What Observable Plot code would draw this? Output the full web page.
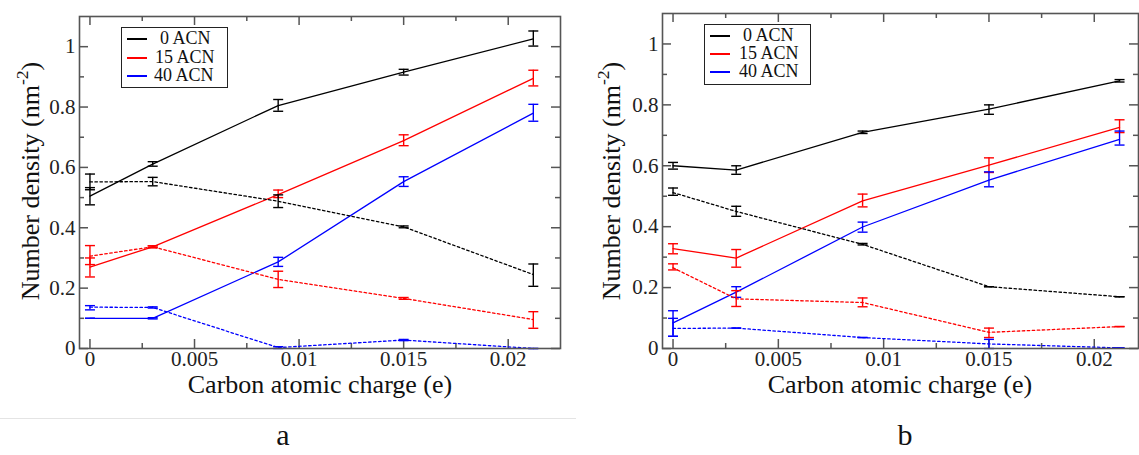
<!DOCTYPE html>
<html>
<head>
<meta charset="utf-8">
<script src="https://cdn.jsdelivr.net/npm/d3@7"></script>
<script src="https://cdn.jsdelivr.net/npm/@observablehq/plot@0.6"></script>
<style>
  html, body { margin: 0; padding: 0; background: #fff; }
  #root { position: relative; width: 1139px; height: 455px; overflow: hidden; font-family: "Liberation Serif", "Times New Roman", Times, "DejaVu Serif", serif; color: #111; }
  .panel { position: absolute; top: 0; }
  .ytitle { position: absolute; font-size: 26px; white-space: nowrap; transform: translate(-50%, -50%) rotate(-90deg); line-height: 26px; }
  .ytitle .sup { font-size: 0.68em; position: relative; top: -0.62em; }
  .xtitle { position: absolute; font-size: 26px; white-space: nowrap; transform: translateX(-50%); line-height: 17px; }
  .legend { position: absolute; border: 1.5px solid #222; box-sizing: border-box; background: #fff; }
  .legend .row { position: absolute; left: 0; height: 18px; width: 100%; }
  .legend .sw { position: absolute; left: 5px; width: 20px; height: 1.5px; top: 9px; }
  .legend .lab { position: absolute; font-size: 18px; line-height: 18px; top: 0; white-space: nowrap; }
  .sublabel { position: absolute; font-size: 30px; transform: translateX(-50%); line-height: 30px; }
  .sep { position: absolute; left: 0; top: 418px; width: 576px; height: 0; border-top: 1px solid #e4e4e4; }
</style>
</head>
<body>
<div id="root"></div>
<script>
// ---------------- data ----------------
const charge = [0, 0.003, 0.009, 0.015, 0.0212];
const seriesNames = ["0 ACN", "15 ACN", "40 ACN"];
const seriesColors = ["#000000", "#ff0000", "#0000ff"];
const xMajorTicks = [0, 0.005, 0.01, 0.015, 0.02];
const xMinorTicks = [0.0025, 0.0075, 0.0125, 0.0175];
const yMajorTicks = [0, 0.2, 0.4, 0.6, 0.8, 1];
const yMinorTicks = [0.1, 0.3, 0.5, 0.7, 0.9];
const xTickLabels = ["0", "0.005", "0.01", "0.015", "0.02"];
const yTickLabels = ["0", "0.2", "0.4", "0.6", "0.8", "1"];
const xTitle = "Carbon atomic charge (e)";
const panelLabels = ["a", "b"];

// Panel a — solid lines
const a0Solid   = [0.505, 0.611, 0.805, 0.916, 1.026];
const a0SolidLo = [0.476, 0.604, 0.786, 0.906, 1.002];
const a0SolidHi = [0.578, 0.619, 0.825, 0.925, 1.052];
const a15Solid   = [0.270, 0.337, 0.510, 0.689, 0.895];
const a15SolidLo = [0.237, 0.334, 0.500, 0.672, 0.870];
const a15SolidHi = [0.300, 0.340, 0.525, 0.708, 0.922];
const a40Solid   = [0.100, 0.100, 0.287, 0.553, 0.780];
const a40SolidLo = [0.100, 0.098, 0.272, 0.537, 0.753];
const a40SolidHi = [0.100, 0.102, 0.302, 0.569, 0.809];
// Panel a — dotted lines
const a0Dot   = [0.552, 0.553, 0.488, 0.403, 0.245];
const a0DotLo = [0.526, 0.539, 0.467, 0.400, 0.206];
const a0DotHi = [0.533, 0.567, 0.509, 0.406, 0.280];
const a15Dot   = [0.306, 0.337, 0.229, 0.166, 0.096];
const a15DotLo = [0.278, 0.334, 0.202, 0.163, 0.067];
const a15DotHi = [0.341, 0.340, 0.256, 0.169, 0.122];
const a40Dot   = [0.137, 0.136, 0.003, 0.028, 0.000];
const a40DotLo = [0.128, 0.134, 0.000, 0.026, 0.000];
const a40DotHi = [0.142, 0.138, 0.006, 0.030, 0.000];

// Panel b — solid lines
const b0Solid   = [0.600, 0.586, 0.710, 0.786, 0.879];
const b0SolidLo = [0.589, 0.572, 0.706, 0.769, 0.875];
const b0SolidHi = [0.611, 0.600, 0.714, 0.800, 0.883];
const b15Solid   = [0.328, 0.297, 0.485, 0.602, 0.726];
const b15SolidLo = [0.311, 0.267, 0.465, 0.578, 0.709];
const b15SolidHi = [0.344, 0.325, 0.507, 0.626, 0.751];
const b40Solid   = [0.084, 0.185, 0.399, 0.553, 0.687];
const b40SolidLo = [0.040, 0.168, 0.382, 0.531, 0.668];
const b40SolidHi = [0.124, 0.203, 0.415, 0.580, 0.714];
// Panel b — dotted lines
const b0Dot   = [0.512, 0.450, 0.342, 0.203, 0.170];
const b0DotLo = [0.503, 0.434, 0.340, 0.203, 0.170];
const b0DotHi = [0.527, 0.467, 0.345, 0.203, 0.170];
const b15Dot   = [0.265, 0.163, 0.151, 0.053, 0.072];
const b15DotLo = [0.258, 0.138, 0.137, 0.036, 0.072];
const b15DotHi = [0.278, 0.190, 0.166, 0.067, 0.072];
const b40Dot   = [0.066, 0.067, 0.036, 0.015, 0.002];
const b40DotLo = [0.040, 0.067, 0.036, 0.000, 0.002];
const b40DotHi = [0.099, 0.067, 0.036, 0.030, 0.002];

// ---------------- build tables ----------------
function table(vals, lo, hi) {
  return charge.map((c, i) => ({x: c, y: vals[i], lo: lo[i], hi: hi[i]}));
}
const panelA = [
  {c: 0, dash: null, rows: table(a0Solid, a0SolidLo, a0SolidHi)},
  {c: 1, dash: null, rows: table(a15Solid, a15SolidLo, a15SolidHi)},
  {c: 2, dash: null, rows: table(a40Solid, a40SolidLo, a40SolidHi)},
  {c: 0, dash: "2.5,2.5", rows: table(a0Dot, a0DotLo, a0DotHi)},
  {c: 1, dash: "2.5,2.5", rows: table(a15Dot, a15DotLo, a15DotHi)},
  {c: 2, dash: "2.5,2.5", rows: table(a40Dot, a40DotLo, a40DotHi)}
];
const panelB = [
  {c: 0, dash: null, rows: table(b0Solid, b0SolidLo, b0SolidHi)},
  {c: 1, dash: null, rows: table(b15Solid, b15SolidLo, b15SolidHi)},
  {c: 2, dash: null, rows: table(b40Solid, b40SolidLo, b40SolidHi)},
  {c: 0, dash: "2.5,2.5", rows: table(b0Dot, b0DotLo, b0DotHi)},
  {c: 1, dash: "2.5,2.5", rows: table(b15Dot, b15DotLo, b15DotHi)},
  {c: 2, dash: "2.5,2.5", rows: table(b40Dot, b40DotLo, b40DotHi)}
];

// horizontal cap symbol for error bars
const capSymbol = {
  draw(context, size) {
    const w = Math.sqrt(size / Math.PI);
    context.moveTo(-w, 0);
    context.lineTo(w, 0);
  }
};

const axisColor = "#555";
const serif = "'Liberation Serif', 'Times New Roman', Times, 'DejaVu Serif', serif";

function makePanel(series, cfg) {
  const fw = cfg.width - cfg.ml - cfg.mr;
  const fh = cfg.height - cfg.mt - cfg.mb;
  const major = 9, minor = 5;
  const marks = [
    Plot.tickX(xMajorTicks, {x: d => d, insetTop: fh - major, stroke: axisColor, strokeWidth: 1.5}),
    Plot.tickX(xMajorTicks, {x: d => d, insetBottom: fh - major, stroke: axisColor, strokeWidth: 1.5}),
    Plot.tickX(xMinorTicks, {x: d => d, insetTop: fh - minor, stroke: axisColor, strokeWidth: 1.5}),
    Plot.tickX(xMinorTicks, {x: d => d, insetBottom: fh - minor, stroke: axisColor, strokeWidth: 1.5}),
    Plot.tickY(yMajorTicks, {y: d => d, insetRight: fw - major, stroke: axisColor, strokeWidth: 1.5}),
    Plot.tickY(yMajorTicks, {y: d => d, insetLeft: fw - major, stroke: axisColor, strokeWidth: 1.5}),
    Plot.tickY(yMinorTicks, {y: d => d, insetRight: fw - minor, stroke: axisColor, strokeWidth: 1.5}),
    Plot.tickY(yMinorTicks, {y: d => d, insetLeft: fw - minor, stroke: axisColor, strokeWidth: 1.5}),
    Plot.axisX({ticks: xMajorTicks, tickSize: 0, tickPadding: 3, fontSize: 21, fontFamily: serif, label: null,
      tickFormat: d => xTickLabels[xMajorTicks.indexOf(d)], fill: "#222"}),
    Plot.axisY({ticks: yMajorTicks, tickSize: 0, tickPadding: 4, fontSize: 21, fontFamily: serif, label: null,
      tickFormat: d => yTickLabels[yMajorTicks.indexOf(d)], fill: "#222"})
  ];
  for (const s of series) {
    const col = seriesColors[s.c];
    marks.push(Plot.line(s.rows, {x: "x", y: "y", stroke: col, strokeWidth: 1.3,
      strokeDasharray: s.dash || undefined}));
    marks.push(Plot.ruleX(s.rows, {x: "x", y1: "lo", y2: "hi", stroke: col, strokeWidth: 1.4}));
    marks.push(Plot.dot(s.rows, {x: "x", y: "lo", symbol: capSymbol, r: 5, stroke: col, strokeWidth: 1.4, fill: "none"}));
    marks.push(Plot.dot(s.rows, {x: "x", y: "hi", symbol: capSymbol, r: 5, stroke: col, strokeWidth: 1.4, fill: "none"}));
  }
  marks.push(Plot.frame({stroke: axisColor, strokeWidth: 1.6}));
  return Plot.plot({
    width: cfg.width, height: cfg.height,
    marginLeft: cfg.ml, marginRight: cfg.mr, marginTop: cfg.mt, marginBottom: cfg.mb,
    x: {domain: cfg.xDomain},
    y: {domain: [0, 1.1]},
    style: {fontFamily: serif, fontSize: "21px", background: "transparent", overflow: "visible"},
    marks
  });
}

const root = document.getElementById("root");

function addPanel(series, cfg, left) {
  const wrap = document.createElement("div");
  wrap.className = "panel";
  wrap.style.left = left + "px";
  wrap.appendChild(makePanel(series, cfg));
  root.appendChild(wrap);
}

const cfgA = {width: 575, height: 400, ml: 79, mr: 15, mt: 16, mb: 52, xDomain: [-0.0005, 0.0225]};
const cfgB = {width: 564, height: 400, ml: 87, mr: 1, mt: 13, mb: 52, xDomain: [-0.0005, 0.0221]};
addPanel(panelA, cfgA, 0);
addPanel(panelB, cfgB, 575);

function addHTML(html) { root.insertAdjacentHTML("beforeend", html); }

// axis titles
addHTML(`<div class="ytitle" style="left:32px; top:181px">Number density (nm<span class="sup">-2</span>)</div>`);
addHTML(`<div class="ytitle" style="left:613px; top:181px">Number density (nm<span class="sup">-2</span>)</div>`);
addHTML(`<div class="xtitle" style="left:320px; top:376px">${xTitle}</div>`);
addHTML(`<div class="xtitle" style="left:900px; top:376px">${xTitle}</div>`);

// legends
function legend(left, top, rowTops, textLefts) {
  let h = `<div class="legend" style="left:${left}px; top:${top}px; width:107px; height:61px">`;
  seriesNames.forEach((n, i) => {
    h += `<div class="row" style="top:${rowTops[i]}px"><div class="sw" style="background:${seriesColors[i]}"></div>` +
         `<div class="lab" style="left:${textLefts[i]}px">${n}</div></div>`;
  });
  h += `</div>`;
  addHTML(h);
}
legend(121, 27, [1, 20, 38], [38, 33, 32]);
legend(704, 24, [1, 19, 37], [38, 34, 34]);

// separator and panel letters
addHTML(`<div class="sep"></div>`);
addHTML(`<div class="sublabel" style="left:283px; top:420px">${panelLabels[0]}</div>`);
addHTML(`<div class="sublabel" style="left:905px; top:420px">${panelLabels[1]}</div>`);
</script>
</body>
</html>
